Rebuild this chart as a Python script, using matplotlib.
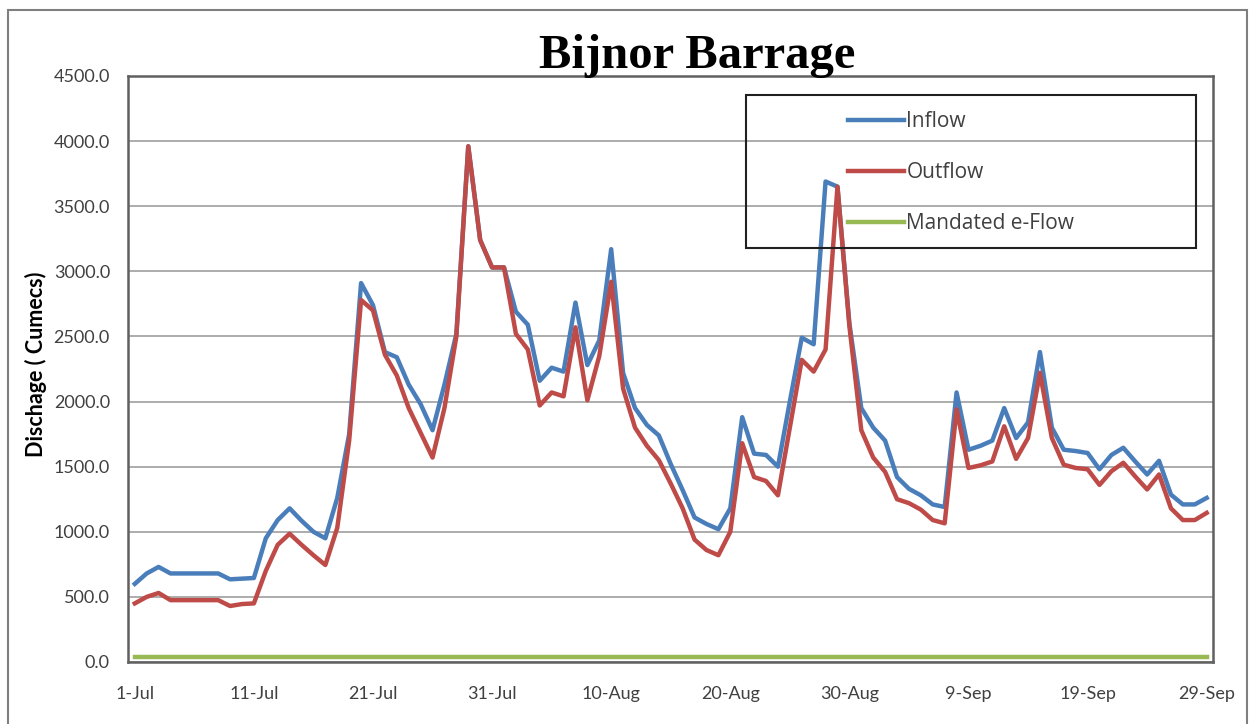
import matplotlib
matplotlib.use('Agg')
import matplotlib.pyplot as plt
from matplotlib.patches import Rectangle
import numpy as np
import pandas as pd

# daily discharge, 1-Jul to 29-Sep (cumecs)
inflow = [600, 680, 730, 680, 680, 680, 680, 680, 635, 640,
          645, 950, 1090, 1180, 1085, 1000, 950, 1260, 1750, 2910,
          2740, 2380, 2340, 2130, 1980, 1780, 2130, 2520, 3960, 3240,
          3030, 3030, 2690, 2590, 2160, 2260, 2230, 2760, 2280, 2470,
          3170, 2220, 1950, 1820, 1740, 1520, 1320, 1110, 1060, 1020,
          1180, 1880, 1600, 1590, 1500, 2000, 2490, 2440, 3690, 3650,
          2600, 1950, 1800, 1700, 1420, 1330, 1280, 1210, 1190, 2070,
          1630, 1660, 1700, 1950, 1720, 1840, 2380, 1800, 1630, 1620,
          1605, 1480, 1590, 1645, 1540, 1440, 1545, 1285, 1210, 1210,
          1260]
outflow = [450, 500, 530, 475, 475, 475, 475, 475, 430, 445,
           450, 700, 900, 985, 900, 820, 745, 1030, 1700, 2780,
           2700, 2360, 2200, 1950, 1760, 1570, 1950, 2500, 3960, 3240,
           3030, 3030, 2520, 2400, 1970, 2070, 2040, 2570, 2010, 2350,
           2920, 2100, 1800, 1660, 1550, 1370, 1180, 940, 860, 820,
           1000, 1680, 1420, 1390, 1280, 1800, 2320, 2230, 2400, 3650,
           2580, 1780, 1570, 1460, 1250, 1220, 1170, 1090, 1065, 1940,
           1490, 1510, 1540, 1810, 1560, 1720, 2220, 1720, 1515, 1490,
           1480, 1360, 1465, 1530, 1425, 1325, 1440, 1180, 1090, 1090,
           1145]
eflow_value = 40
series_names = ['Inflow', 'Outflow', 'Mandated e-Flow']

dates = pd.date_range('2013-07-01', periods=len(inflow))
x = np.arange(len(inflow))
eflow = [eflow_value] * len(inflow)
tick_idx = x[::10]
tick_labels = ['%d-%s' % (dates[i].day, dates[i].strftime('%b')) for i in tick_idx]

plt.rcParams['font.family'] = ['Lato', 'DejaVu Sans']

fig = plt.figure(figsize=(12.53, 7.24), dpi=100)
ax = fig.add_axes([128/1253, 1-662/724, (1213-128)/1253, (662-76)/724])

# outer chart border
fig.patches.append(Rectangle((8/1253, -0.05), (1247-8)/1253, 1.05-10/724,
                             transform=fig.transFigure, fill=False,
                             edgecolor='#7f7f7f', linewidth=1.5))

ax.plot(x, inflow, color='#4A7EBB', lw=3.2, label=series_names[0])
ax.plot(x, outflow, color='#BE4B48', lw=3.2, label=series_names[1])
ax.plot(x, eflow, color='#98B954', lw=3.2, label=series_names[2])

ax.set_xlim(-0.57, 90.53)
ax.set_ylim(0, 4500)
ax.set_yticks(np.arange(0, 4501, 500))
ax.set_yticklabels(['%.1f' % v for v in np.arange(0, 4501, 500)])
ax.set_xticks(tick_idx)
ax.set_xticklabels(tick_labels)
ax.tick_params(length=0, labelsize=13, colors='#404040')
ax.tick_params(axis='x', pad=17)
ax.tick_params(axis='y', pad=13)
ax.grid(axis='y', color='#a6a6a6', lw=1.3)
ax.set_axisbelow(True)
for s in ax.spines.values():
    s.set_color('#606060')
    s.set_linewidth(1.8)

fig.text(697/1253, 1-56/724, 'Bijnor Barrage', family='Liberation Serif',
         fontweight='bold', fontsize=35, ha='center', va='center')
fig.text(36/1253, 1-364/724, 'Dischage ( Cumecs)', rotation=90,
         fontweight='bold', fontsize=15.5, ha='center', va='center')

# legend box
fig.patches.append(Rectangle((746/1253, 1-248/724), (1196-746)/1253, (248-95)/724,
                             transform=fig.transFigure, fill=False,
                             edgecolor='#202020', linewidth=1.5, zorder=5))
ax.legend(loc='upper left', bbox_to_anchor=(848/1253, 1-111/724),
          bbox_transform=fig.transFigure, frameon=False,
          prop={'family': 'Open Sans', 'size': 15},
          handlelength=2.7, handletextpad=0.1, labelspacing=1.45,
          borderpad=0, borderaxespad=0, labelcolor='#404040')

fig.savefig('out.png', dpi=100)
